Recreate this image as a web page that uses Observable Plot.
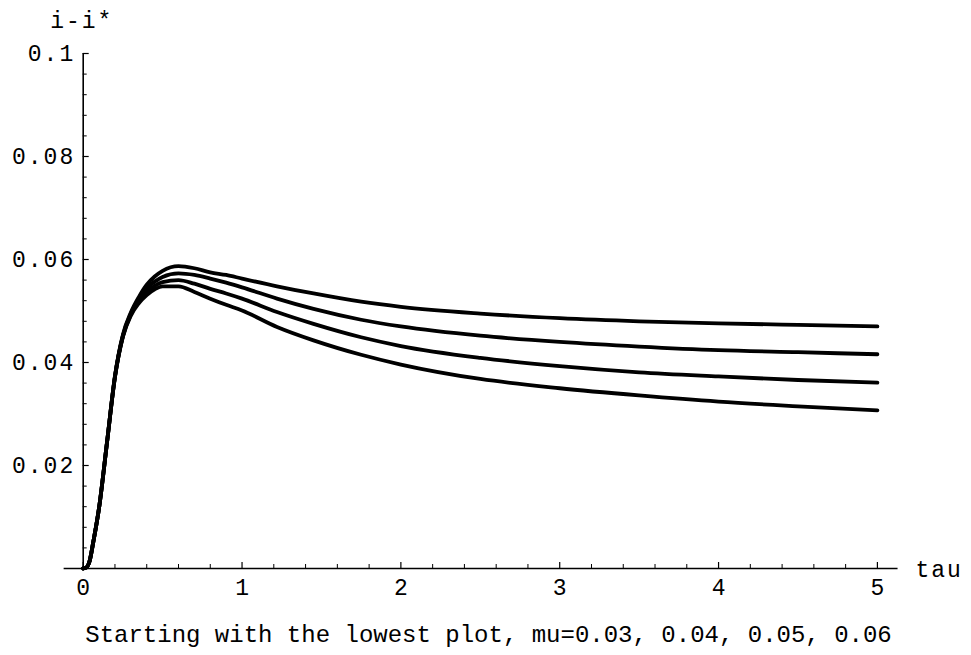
<!DOCTYPE html>
<html>
<head>
<meta charset="utf-8">
<script src="https://cdn.jsdelivr.net/npm/d3@7"></script>
<script src="https://cdn.jsdelivr.net/npm/@observablehq/plot@0.6"></script>
<style>
  html, body { margin: 0; padding: 0; background: #fff; }
  #wrap { position: relative; width: 971px; height: 655px; }
  #chart svg text { letter-spacing: 2px; }
  #caption {
    position: absolute; left: 0; top: 624px; width: 971px;
    text-align: center; font-family: "Liberation Mono", "Courier New", monospace;
    font-size: 24px; line-height: 24px; color: #000; white-space: pre; padding-left: 6px; box-sizing: border-box;
  }
</style>
</head>
<body>
<div id="wrap">
  <div id="chart"></div>
  <div id="caption">Starting with the lowest plot, mu=0.03, 0.04, 0.05, 0.06</div>
</div>
<script>
// sample points along tau
const tau = [0, 0.02, 0.04, 0.065, 0.1, 0.15, 0.2, 0.25, 0.3, 0.35, 0.4, 0.45, 0.5, 0.6, 0.7, 0.8, 0.9, 1.0, 1.22, 1.45, 1.75, 2.0, 2.5, 3.0, 3.5, 4.0, 4.5, 5.0];
// i - i* for each mu
const mu03 = [0, 0.0002, 0.0014, 0.0054, 0.0118, 0.0245, 0.0372, 0.0450, 0.0491, 0.0515, 0.0531, 0.0542, 0.0548, 0.0548, 0.0537, 0.0524, 0.0512, 0.0501, 0.0469, 0.0443, 0.0415, 0.0396, 0.0368, 0.0350, 0.0336, 0.0324, 0.0315, 0.0307];
const mu04 = [0, 0.0002, 0.0014, 0.0054, 0.0118, 0.0245, 0.0372, 0.0451, 0.0493, 0.0519, 0.0537, 0.0549, 0.0556, 0.0560, 0.0553, 0.0543, 0.0534, 0.0524, 0.0498, 0.0475, 0.0449, 0.0432, 0.0409, 0.0393, 0.0381, 0.0373, 0.0366, 0.0361];
const mu05 = [0, 0.0002, 0.0014, 0.0054, 0.0118, 0.0245, 0.0373, 0.0452, 0.0495, 0.0523, 0.0544, 0.0557, 0.0566, 0.0573, 0.0570, 0.0563, 0.0555, 0.0546, 0.0524, 0.0504, 0.0483, 0.0470, 0.0452, 0.0440, 0.0431, 0.0424, 0.0420, 0.0416];
const mu06 = [0, 0.0002, 0.0014, 0.0054, 0.0118, 0.0245, 0.0374, 0.0454, 0.0497, 0.0527, 0.0551, 0.0567, 0.0578, 0.0587, 0.0583, 0.0575, 0.0570, 0.0563, 0.0548, 0.0534, 0.0518, 0.0508, 0.0495, 0.0486, 0.0480, 0.0476, 0.0473, 0.0470];
const muLabels = ["0.03", "0.04", "0.05", "0.06"];

const xTickValues = [0, 1, 2, 3, 4, 5];
const xTickLabels = ["0", "1", "2", "3", "4", "5"];
const yTickValues = [0.02, 0.04, 0.06, 0.08, 0.1];
const yTickLabels = ["0.02", "0.04", "0.06", "0.08", "0.1"];
const xMinorTicks = d3.range(0, 26).map(k => k * 0.2).filter((d, k) => k % 5 !== 0);
const yMinorTicks = d3.range(1, 25).map(k => k * 0.004).filter((d, k) => (k + 1) % 5 !== 0);
const xAxisExtent = [-0.12, 5.13];

const yTitle = "i-i*";
const xTitle = "tau";

const rows = [];
[mu03, mu04, mu05, mu06].forEach((s, j) =>
  s.forEach((v, i) => rows.push({tau: tau[i], v, mu: muLabels[j]}))
);

const font = '"Liberation Mono", "Courier New", monospace';

const chart = Plot.plot({
  width: 971,
  height: 610,
  marginTop: 53,
  marginBottom: 42,
  marginLeft: 82.7,
  marginRight: 94.1,
  x: {domain: [0, 5], axis: null},
  y: {domain: [0, 0.1], axis: null},
  style: {fontFamily: font, background: "white", color: "black"},
  marks: [
    // axis lines
    Plot.ruleY([0], {x1: xAxisExtent[0], x2: xAxisExtent[1], stroke: "black", strokeWidth: 1.6}),
    Plot.ruleX([0], {y1: 0, y2: 0.1, stroke: "black", strokeWidth: 1.6}),
    // x ticks (inward)
    Plot.ruleX(xTickValues, {x: d => d, y1: 0, y2: 0, insetBottom: 6, stroke: "black", strokeWidth: 1.2}),
    Plot.ruleX(xMinorTicks, {x: d => d, y1: 0, y2: 0, insetBottom: 4, stroke: "black", strokeWidth: 1}),
    // y ticks (inward)
    Plot.ruleY(yTickValues, {y: d => d, x1: 0, x2: 0, insetRight: -6, stroke: "black", strokeWidth: 1.2}),
    Plot.ruleY(yMinorTicks, {y: d => d, x1: 0, x2: 0, insetRight: -4, stroke: "black", strokeWidth: 1}),
    // tick labels
    Plot.text(xTickValues, {x: d => d, frameAnchor: "bottom", text: (d, i) => xTickLabels[i],
      lineAnchor: "top", dy: 10, dx: 1, fontSize: 23, fill: "black"}),
    Plot.text(yTickValues, {y: d => d, frameAnchor: "left", text: (d, i) => yTickLabels[i],
      textAnchor: "end", lineAnchor: "middle", dx: -8, fontSize: 23, fill: "black"}),
    // axis titles
    Plot.text([yTitle], {frameAnchor: "top-left", text: d => d, textAnchor: "start",
      lineAnchor: "middle", dx: -33, dy: -33, fontSize: 23, fill: "black"}),
    Plot.text([xTitle], {frameAnchor: "bottom-right", text: d => d, textAnchor: "start",
      lineAnchor: "middle", dx: 38, dy: 1, fontSize: 23, fill: "black"}),
    // curves
    Plot.line(rows, {x: "tau", y: "v", z: "mu", stroke: "black", strokeWidth: 3.8, curve: "monotone-x"})
  ]
});
document.getElementById("chart").appendChild(chart);
</script>
</body>
</html>
